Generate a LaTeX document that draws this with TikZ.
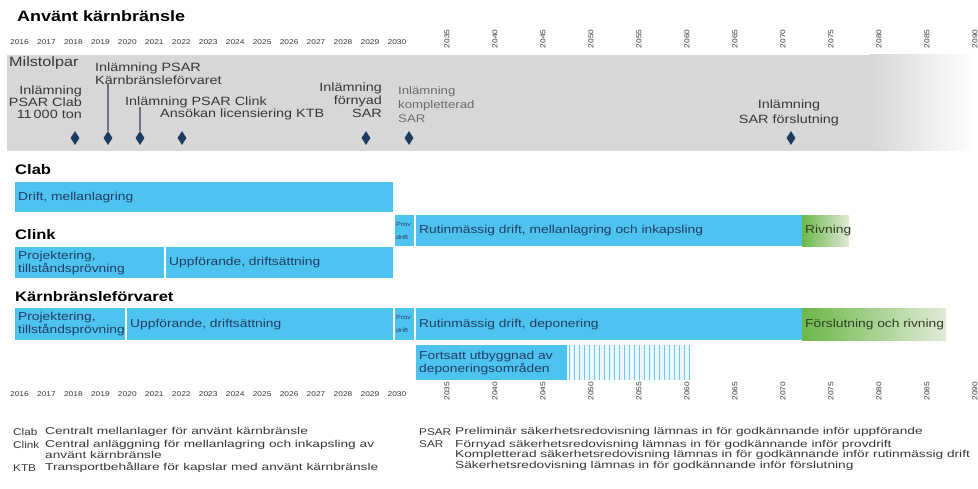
\documentclass[tikz,border=0pt]{standalone}
\usepackage{fontspec}
\setmainfont[FakeStretch=1.2]{Liberation Sans}
\newfontfamily\lgfont[FakeStretch=1.37]{Liberation Sans}
\usetikzlibrary{shapes.geometric}
\definecolor{barblue}{RGB}{79,195,239}
\definecolor{bartext}{RGB}{30,62,100}
\definecolor{band}{RGB}{215,215,215}
\definecolor{dia}{RGB}{28,60,95}
\definecolor{txt}{RGB}{45,45,45}
\definecolor{mtxt}{RGB}{55,55,55}
\definecolor{grnA}{RGB}{108,184,72}
\definecolor{grnB}{RGB}{226,234,216}
\definecolor{grntext}{RGB}{45,65,35}
\definecolor{stripe}{RGB}{110,200,240}
\definecolor{stripebg}{RGB}{236,247,253}
\definecolor{conn}{RGB}{110,115,125}
\begin{document}
\begin{tikzpicture}[x=1pt,y=-1pt,
  every node/.style={inner sep=0pt, text=txt},
  yr/.style={font=\fontsize{7}{8}\selectfont, text=mtxt},
  ttl/.style={anchor=west, font=\fontsize{15}{17}\selectfont\bfseries, text=black},
  hd/.style={anchor=west, font=\fontsize{13.8}{15}\selectfont\bfseries, text=black},
  ms/.style={font=\fontsize{12}{12}\selectfont, text=mtxt},
  msgray/.style={font=\fontsize{11}{14}\selectfont, text=gray!85!black},
  dmd/.style={diamond, fill=dia, minimum width=9pt, minimum height=14pt, aspect=0.65},
  conn/.style={draw=conn, line width=1.3pt},
  bar/.style={fill=barblue, draw=none, anchor=north west, inner xsep=3pt, inner ysep=0pt,
    align=left, text=bartext, font=\fontsize{11.5}{13}\selectfont},
  gbar/.style={bar, left color=grnA, right color=grnB, text=grntext},
  prov/.style={bar, inner xsep=1pt, font=\fontsize{6}{13}\selectfont},
  lgkey/.style={anchor=west, font=\fontsize{9.8}{10}\selectfont, text=mtxt},
  lg/.style={anchor=west, font=\lgfont\fontsize{10}{10}\selectfont, text=mtxt}
]
\useasboundingbox (0,0) rectangle (978,489);
\fill[white] (0,0) rectangle (978,489);

% title
\node[ttl] (title) at (17,16) {Använt kärnbränsle};

% milestone band
\fill[band] (7,55) rectangle (870,151);
\shade[left color=band, right color=white] (870,55) rectangle (976,151);

% axes top
\foreach \i in {0,...,14} \node[yr] (yt\i) at ({19.5+26.96*\i},42) {\the\numexpr2016+\i\relax};
\foreach \i in {0,...,11} \node[yr, rotate=90] (yrt\i) at ({447+48*\i},39) {\the\numexpr2035+5*\i\relax};
% axes bottom
\foreach \i in {0,...,14} \node[yr] (yb\i) at ({19.5+26.96*\i},394) {\the\numexpr2016+\i\relax};
\foreach \i in {0,...,11} \node[yr, rotate=90] (yrb\i) at ({447+48*\i},391) {\the\numexpr2035+5*\i\relax};

% milestones
\node[anchor=west, font=\fontsize{13.5}{14}\selectfont, text=mtxt] (milst) at (9,63) {Milstolpar};
\node[dmd] (m1) at (75,138) {};
\node[dmd] (m2) at (108,138) {};
\node[dmd] (m3) at (140,138) {};
\node[dmd] (m4) at (182,138) {};
\node[dmd] (m5) at (366,138) {};
\node[dmd] (m6) at (409,138) {};
\node[dmd] (m7) at (791,138) {};
\node[ms, anchor=east, align=right] (l1) at (82,102) {Inlämning\\PSAR Clab\\11\,000 ton};
\node[ms, anchor=west, align=left, font=\fontsize{12}{13}\selectfont] (l2) at (95,73.5) {Inlämning PSAR\\Kärnbränsleförvaret};
\node[ms, anchor=west] (l3) at (125,102) {Inlämning PSAR Clink};
\node[ms, anchor=west] (l4) at (160,114) {Ansökan licensiering KTB};
\node[ms, anchor=east, align=right, font=\fontsize{12}{13}\selectfont] (l5) at (382,100) {Inlämning\\förnyad\\SAR};
\node[msgray, anchor=west, align=left] (l6) at (398,105) {Inlämning\\kompletterad\\SAR};
\node[ms, align=center, font=\fontsize{12}{15}\selectfont] (l7) at (789,113) {Inlämning\\SAR förslutning};
\draw[conn] ([yshift=1pt]l2.south -| m2.north) -- (m2.north);
\draw[conn] ([yshift=1pt]l3.south -| m3.north) -- (m3.north);

% Clab
\node[hd] (hclab) at (15,170) {Clab};
\node[bar, text width=372pt, minimum height=30pt] (clab) at (15,182) {Drift, mellanlagring};

% Clink
\node[hd] (hclink) at (15,235) {Clink};
\node[bar, text width=143pt, minimum height=31pt] (clinkA) at (15,247) {Projektering,\\tillståndsprövning};
\node[bar, text width=221pt, minimum height=31pt] (clinkB) at (166,247) {Uppförande, driftsättning};
\node[prov, text width=17pt, minimum height=31pt] (clinkP) at (395,215) {Prov\\drift};
\node[bar, text width=380pt, minimum height=31pt] (clinkR) at (416,215) {Rutinmässig drift, mellanlagring och inkapsling};
\node[gbar, text width=41pt, minimum height=31pt] (clinkD) at (802,215) {\mbox{Rivning}};

% Kärnbränsleförvaret
\node[hd] (hkbf) at (15,297) {Kärnbränsleförvaret};
\node[bar, text width=104pt, minimum height=32pt] (kA) at (15,308) {Projektering,\\tillståndsprövning};
\node[bar, text width=260pt, minimum height=32pt] (kB) at (127,308) {Uppförande, driftsättning};
\node[prov, text width=17pt, minimum height=32pt] (kP) at (395,308) {Prov\\drift};
\node[bar, text width=380pt, minimum height=32pt] (kR) at (416,308) {Rutinmässig drift, deponering};
\node[gbar, text width=138pt, minimum height=32pt] (kD) at (802,308) {\mbox{Förslutning och rivning}};
\node[bar, text width=145pt, minimum height=35pt] (kF) at (416,345) {Fortsatt utbyggnad av\\deponeringsområden};
\fill[stripebg] (567,345) rectangle (690,380);
\foreach \xx in {569,574,...,689} \draw[stripe, line width=1pt] (\xx,345) -- (\xx,380);

% legend
\node[lgkey] (kclab) at (13,432) {Clab};
\node[lg] (dclab) at (45,432) {Centralt mellanlager för använt kärnbränsle};
\node[lgkey] (kclink) at (13,444.5) {Clink};
\node[lg] (dclink) at (45,444.5) {Central anläggning för mellanlagring och inkapsling av};
\node[lg] (dclink2) at (45,455) {använt kärnbränsle};
\node[lgkey] (kktb) at (13,468) {KTB};
\node[lg] (dktb) at (45,468) {Transportbehållare för kapslar med använt kärnbränsle};
\node[lgkey] (kpsar) at (419,432) {PSAR};
\node[lg] (dpsar) at (455,432) {Preliminär säkerhetsredovisning lämnas in för godkännande inför uppförande};
\node[lgkey] (ksar) at (419,444.5) {SAR};
\node[lg] (dsar1) at (455,444.5) {Förnyad säkerhetsredovisning lämnas in för godkännande inför provdrift};
\node[lg] (dsar2) at (455,455) {Kompletterad säkerhetsredovisning lämnas in för godkännande inför rutinmässig drift};
\node[lg] (dsar3) at (455,465.5) {Säkerhetsredovisning lämnas in för godkännande inför förslutning};
\end{tikzpicture}
\end{document}
